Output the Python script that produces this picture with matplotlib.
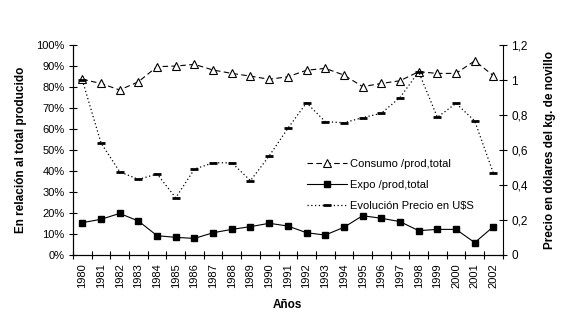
import numpy as np
import matplotlib
matplotlib.use('Agg')
import matplotlib.pyplot as plt
from matplotlib.ticker import FuncFormatter, FixedLocator

plt.rcParams['font.family'] = ['Liberation Sans', 'DejaVu Sans']

years = [str(y) for y in range(1980, 2003)]
consumo = [83.7, 81.7, 78.6, 82.5, 89.7, 90.0, 90.8, 88.1, 86.5, 85.2, 83.7, 84.9,
           88.0, 88.9, 85.7, 80.2, 81.7, 83.0, 87.3, 86.5, 86.5, 92.5, 85.4]
expo = [15.4, 17.0, 19.8, 16.2, 9.2, 8.4, 7.9, 10.6, 12.2, 13.5, 15.1, 13.8,
        10.6, 9.5, 13.2, 18.7, 17.5, 15.9, 11.6, 12.2, 12.2, 5.9, 13.5]
precio = [1.0, 0.64, 0.476, 0.432, 0.463, 0.327, 0.491, 0.527, 0.527, 0.425, 0.566, 0.724,
          0.87, 0.762, 0.756, 0.785, 0.81, 0.90, 1.047, 0.787, 0.867, 0.766, 0.467]

x = np.arange(len(years))

fig = plt.figure(figsize=(5.67, 3.26), dpi=100)
ax = fig.add_axes([0.1287, 0.2178, 0.758, 0.644])
ax2 = ax.twinx()

l1, = ax.plot(x, consumo, color='black', lw=0.8, ls=(0, (5, 3)), marker='^',
              markersize=6, markerfacecolor='white', markeredgecolor='black',
              markeredgewidth=0.8, label='Consumo /prod,total')
l2, = ax.plot(x, expo, color='black', lw=0.8, marker='s', markersize=4.5,
              markerfacecolor='black', label='Expo /prod,total')
l3, = ax2.plot(x, precio, color='black', lw=0.9, ls=(0, (1, 2)), marker='_',
               markersize=6, markeredgewidth=2, label='Evolución Precio en U$S')

ax.set_xlim(-0.5, len(years) - 0.5)
ax.set_ylim(0, 100)
ax2.set_ylim(0, 1.2)

ax.set_yticks(np.arange(0, 101, 10))
ax.yaxis.set_major_formatter(FuncFormatter(lambda v, p: f'{int(v)}%'))
ax2.set_yticks(np.arange(0, 1.21, 0.2))
ax2.yaxis.set_major_formatter(
    FuncFormatter(lambda v, p: ('%g' % round(v, 1)).replace('.', ',')))

ax.set_xticks(x)
ax.set_xticklabels(years, rotation=90)
ax.xaxis.set_minor_locator(FixedLocator(np.arange(-0.5, len(years), 1.0)))
ax.tick_params(axis='x', which='major', length=0, pad=6, labelsize=8)
ax.tick_params(axis='x', which='minor', direction='inout', length=6, width=0.8)
ax.tick_params(axis='y', direction='inout', length=6, width=0.8, labelsize=8, pad=3)
ax2.tick_params(axis='y', direction='inout', length=6, width=0.8, labelsize=8.5, pad=3)

for a in (ax, ax2):
    a.spines['top'].set_visible(False)
    for s in ('left', 'right', 'bottom'):
        a.spines[s].set_linewidth(0.8)
ax.spines['right'].set_visible(False)

ax.set_xlabel('Años', fontweight='bold', fontsize=8.5, labelpad=8)
ax.set_ylabel('En relación al total producido', fontweight='bold', fontsize=8.5, labelpad=7)
ax2.set_ylabel('Precio en dólares del kg. de novillo', fontweight='bold', fontsize=8.5, labelpad=12)

ax.legend(handles=[l1, l2, l3], loc='upper left', bbox_to_anchor=(0.535, 0.48),
          frameon=False, fontsize=8, handlelength=3.6, handletextpad=0.2,
          labelspacing=1.0, borderaxespad=0)

fig.savefig('out.png', dpi=100)
